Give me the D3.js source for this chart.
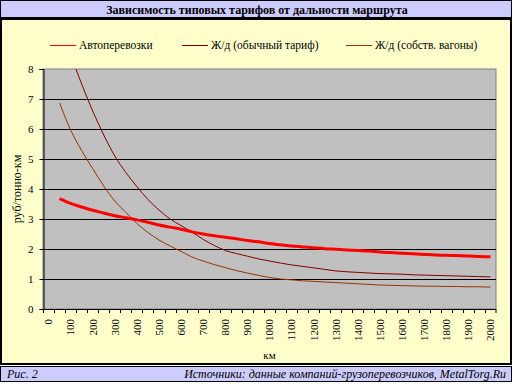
<!DOCTYPE html>
<html>
<head>
<meta charset="utf-8">
<script src="https://cdn.jsdelivr.net/npm/d3@7"></script>
<style>
  body { margin: 0; background: #fff; }
  svg { display: block; }
  svg text { font-family: "Liberation Serif", "DejaVu Serif", serif; }
</style>
</head>
<body>
<div id="chart"></div>
<script>
// km categories (category axis, every 50 km)
const categories = [0, 50, 100, 150, 200, 250, 300, 350, 400, 450, 500, 550, 600, 650, 700, 750,
  800, 850, 900, 950, 1000, 1050, 1100, 1150, 1200, 1250, 1300, 1350, 1400, 1450, 1500, 1550,
  1600, 1650, 1700, 1750, 1800, 1850, 1900, 1950, 2000];
// labelled categories
const tickLabels = [0, 100, 200, 300, 400, 500, 600, 700, 800, 900, 1000, 1100, 1200, 1300,
  1400, 1500, 1600, 1700, 1800, 1900, 2000];
const yTicks = [0, 1, 2, 3, 4, 5, 6, 7, 8];

// series values from 50 km to 2000 km
const seriesKm = categories.slice(1);
const auto = [3.68, 3.52, 3.40, 3.29, 3.20, 3.11, 3.04, 2.97, 2.89, 2.80, 2.73, 2.66, 2.57, 2.50,
  2.44, 2.39, 2.34, 2.28, 2.24, 2.18, 2.14, 2.10, 2.07, 2.04, 2.01, 1.99, 1.97, 1.95, 1.93, 1.90,
  1.88, 1.86, 1.84, 1.82, 1.80, 1.79, 1.78, 1.77, 1.75, 1.74];
const railStd = [9.7, 8.5, 7.5, 6.6, 5.8, 5.1, 4.55, 4.08, 3.65, 3.30, 3.00, 2.78, 2.56, 2.32,
  2.12, 1.95, 1.85, 1.76, 1.67, 1.60, 1.53, 1.47, 1.42, 1.37, 1.32, 1.27, 1.24, 1.22, 1.20, 1.18,
  1.17, 1.16, 1.14, 1.13, 1.12, 1.11, 1.10, 1.09, 1.08, 1.07];
const railOwn = [6.87, 5.97, 5.28, 4.68, 4.10, 3.60, 3.22, 2.85, 2.55, 2.30, 2.10, 1.92, 1.73, 1.60,
  1.48, 1.38, 1.28, 1.20, 1.12, 1.05, 1.00, 0.97, 0.94, 0.92, 0.90, 0.88, 0.86, 0.84, 0.82, 0.80,
  0.79, 0.78, 0.77, 0.76, 0.76, 0.75, 0.75, 0.74, 0.74, 0.73];

const seriesNames = ['Автоперевозки', 'Ж/д (обычный тариф)', 'Ж/д (собств. вагоны)'];
const seriesColors = ['#ff0000', '#800000', '#993300'];
const seriesWidths = [3, 1, 1];
const seriesValues = [auto, railStd, railOwn];

const FONT = '"Liberation Serif", "DejaVu Serif", serif';
const W = 513, H = 384;
const svg = d3.select('#chart').append('svg')
  .attr('width', W).attr('height', H);

// frames
svg.append('rect').attr('x', 0.5).attr('y', 0.5).attr('width', 511).attr('height', 17)
  .attr('fill', '#ccccff').attr('stroke', '#000');
svg.append('rect').attr('x', 1).attr('y', 19).attr('width', 510).attr('height', 345)
  .attr('fill', '#ffffcc').attr('stroke', '#000').attr('stroke-width', 2);
svg.append('rect').attr('x', 0.5).attr('y', 366.5).attr('width', 511).attr('height', 15)
  .attr('fill', '#ccccff').attr('stroke', '#000');

// title
svg.append('text')
  .attr('x', 257).attr('y', 13.5)
  .attr('text-anchor', 'middle')
  .attr('font-family', FONT)
  .style('font-size', '12px').style('font-weight', 'bold')
  .text('Зависимость типовых тарифов от дальности маршрута');

// footer
svg.append('text').attr('x', 7).attr('y', 378)
  .attr('font-family', FONT)
  .style('font-size', '12px').style('font-style', 'italic')
  .text('Рис. 2');
svg.append('text').attr('x', 506).attr('y', 378)
  .attr('text-anchor', 'end')
  .attr('font-family', FONT)
  .style('font-size', '12px').style('font-style', 'italic')
  .text('Источники: данные компаний-грузоперевозчиков, MetalTorg.Ru');

// scales
const x = d3.scaleBand().domain(categories).range([43, 496]).padding(0);
const y = d3.scaleLinear().domain([0, 8]).range([309, 69]);
const cx = d => x(d) + x.bandwidth() / 2;

// plot area
svg.append('rect')
  .attr('x', x.range()[0]).attr('y', y(8))
  .attr('width', x.range()[1] - x.range()[0]).attr('height', y(0) - y(8))
  .attr('fill', '#c0c0c0').attr('stroke', '#808080');

// gridlines
svg.append('g')
  .selectAll('line')
  .data(yTicks.slice(1, -1))
  .enter().append('line')
  .attr('x1', x.range()[0]).attr('x2', x.range()[1])
  .attr('y1', d => Math.round(y(d)) + 0.5).attr('y2', d => Math.round(y(d)) + 0.5)
  .attr('stroke', '#000').attr('stroke-width', 1);

// clip
svg.append('clipPath').attr('id', 'plotClip')
  .append('rect')
  .attr('x', x.range()[0]).attr('y', y(8))
  .attr('width', x.range()[1] - x.range()[0]).attr('height', y(0) - y(8));

// lines
const line = d3.line()
  .x((d, i) => cx(seriesKm[i]))
  .y(d => y(d))
  .curve(d3.curveMonotoneX);

const order = [2, 1, 0];
order.forEach(s => {
  svg.append('path')
    .datum(seriesValues[s])
    .attr('clip-path', 'url(#plotClip)')
    .attr('fill', 'none')
    .attr('stroke', seriesColors[s])
    .attr('stroke-width', seriesWidths[s])
    .attr('d', line);
});

// y axis
const yAxis = svg.append('g')
  .attr('transform', `translate(${x.range()[0] + 0.5},0)`)
  .call(d3.axisLeft(y).tickValues(yTicks).tickSize(4).tickFormat(d3.format('d')));
yAxis.attr('font-family', FONT);
yAxis.select('.domain').attr('stroke', '#000');
yAxis.selectAll('line').attr('stroke', '#000');
yAxis.selectAll('text')
  .attr('x', -10)
  .attr('font-family', FONT)
  .style('font-size', '11px')
  .attr('fill', '#000');

// x axis line and ticks at category edges
svg.append('line')
  .attr('x1', x.range()[0]).attr('x2', x.range()[1])
  .attr('y1', y(0) + 0.5).attr('y2', y(0) + 0.5)
  .attr('stroke', '#000');
svg.append('g')
  .selectAll('line')
  .data(categories.concat(['end']))
  .enter().append('line')
  .attr('x1', d => d === 'end' ? x.range()[1] : Math.round(x(d)) + 0.5)
  .attr('x2', d => d === 'end' ? x.range()[1] : Math.round(x(d)) + 0.5)
  .attr('y1', y(0)).attr('y2', y(0) + 4)
  .attr('stroke', '#000');

const xAxis = svg.append('g')
  .attr('transform', `translate(0,${y(0)})`)
  .call(d3.axisBottom(x).tickValues(tickLabels).tickSize(0));
xAxis.attr('font-family', FONT);
xAxis.select('.domain').remove();
xAxis.selectAll('text')
  .attr('transform', 'rotate(-90)')
  .attr('x', -10).attr('y', 0).attr('dy', '0.35em')
  .attr('font-family', FONT)
  .style('text-anchor', 'end')
  .style('font-size', '11px')
  .attr('fill', '#000');

// axis titles
svg.append('text')
  .attr('x', (x.range()[0] + x.range()[1]) / 2).attr('y', 359)
  .attr('text-anchor', 'middle')
  .attr('font-family', FONT)
  .style('font-size', '11px')
  .text('км');
svg.append('text')
  .attr('transform', `translate(21,${(y(0) + y(8)) / 2}) rotate(-90)`)
  .attr('text-anchor', 'middle')
  .attr('font-family', FONT)
  .style('font-size', '12px')
  .text('руб/тонно-км');

// legend
const legendX = [50, 182, 346];
const legend = svg.append('g');
seriesNames.forEach((name, i) => {
  legend.append('line')
    .attr('x1', legendX[i]).attr('x2', legendX[i] + 26)
    .attr('y1', 45.5).attr('y2', 45.5)
    .attr('stroke', seriesColors[i]).attr('stroke-width', 1);
  legend.append('text')
    .attr('x', legendX[i] + 29).attr('y', 49)
    .attr('font-family', FONT)
    .style('font-size', '11.5px')
    .text(name);
});
</script>
</body>
</html>
